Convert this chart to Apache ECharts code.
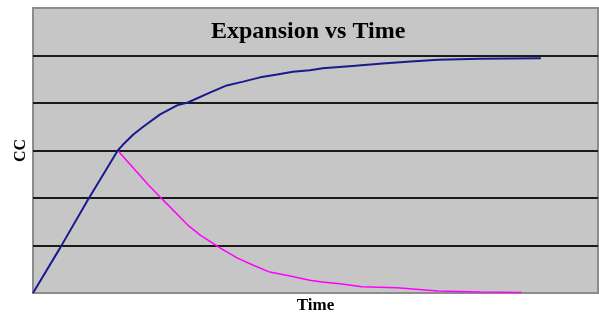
<!DOCTYPE html>
<html>
<head>
<meta charset="utf-8">
<script src="https://cdn.jsdelivr.net/npm/echarts@6/dist/echarts.min.js"></script>
<style>
html,body{margin:0;padding:0;background:#fff;}
#c{width:599px;height:314px;}
</style>
</head>
<body>
<div id="c"></div>
<script>
const titleText = "Expansion vs Time";
const xName = "Time";
const yName = "CC";

const expansionX = [0, 4.8, 9.7, 15, 15.9, 17.7, 19.5, 22.5, 25.5, 27.4, 31.3, 34.3, 37.2, 40.2, 43.2, 46.0, 49.0, 51.3, 56.5, 61.9, 66.2, 71.7, 79.1, 89.9];
const expansionY = [0, 0.95, 1.96, 3.0, 3.12, 3.33, 3.50, 3.76, 3.95, 4.01, 4.22, 4.37, 4.45, 4.54, 4.60, 4.66, 4.69, 4.73, 4.78, 4.83, 4.87, 4.91, 4.93, 4.94];

const decayX = [15, 20.4, 23.0, 27.4, 29.6, 33.1, 36.1, 38.9, 41.9, 45.5, 49.0, 51.2, 54.7, 58.2, 64.4, 71.7, 79.1, 86.5];
const decayY = [3.0, 2.28, 1.96, 1.43, 1.22, 0.95, 0.74, 0.59, 0.44, 0.36, 0.27, 0.23, 0.19, 0.13, 0.11, 0.04, 0.02, 0.01];

const pairs = (xs, ys) => xs.map((x, i) => [x, ys[i]]);

const chart = echarts.init(document.getElementById('c'));
chart.setOption({
  animation: false,
  backgroundColor: '#ffffff',
  title: {
    text: titleText,
    left: 206,
    top: 15,
    textStyle: {fontFamily: 'Liberation Serif', fontWeight: 'bold', fontSize: 24, color: '#000'}
  },
  grid: {
    left: 33, right: 1, top: 8, bottom: 21,
    outerBoundsMode: 'none',
    containLabel: false,
    show: true, backgroundColor: '#c6c6c6', borderColor: '#8c8c8c', borderWidth: 2,
    z: 0
  },
  xAxis: {
    type: 'value', min: 0, max: 100,
    name: xName, nameLocation: 'middle', nameGap: 4,
    nameTextStyle: {fontFamily: 'Liberation Serif', fontWeight: 'bold', fontSize: 17, color: '#000'},
    axisLine: {show: false}, axisTick: {show: false}, axisLabel: {show: false}, splitLine: {show: false}
  },
  yAxis: {
    type: 'value', min: 0, max: 6, interval: 1,
    name: yName, nameLocation: 'middle', nameGap: 4, nameRotate: 90,
    nameTextStyle: {fontFamily: 'Liberation Serif', fontWeight: 'bold', fontSize: 16, color: '#000'},
    axisLine: {show: false}, axisTick: {show: false}, axisLabel: {show: false},
    splitLine: {show: true, showMinLine: false, showMaxLine: false, lineStyle: {color: '#1a1a1a', width: 2}}
  },
  series: [
    {
      type: 'line', data: pairs(expansionX, expansionY), showSymbol: false,
      lineStyle: {color: '#1a1a8c', width: 2}, z: 3
    },
    {
      type: 'line', data: pairs(decayX, decayY), showSymbol: false,
      lineStyle: {color: '#ff00ff', width: 1.5}, z: 2
    }
  ]
});
</script>
</body>
</html>
